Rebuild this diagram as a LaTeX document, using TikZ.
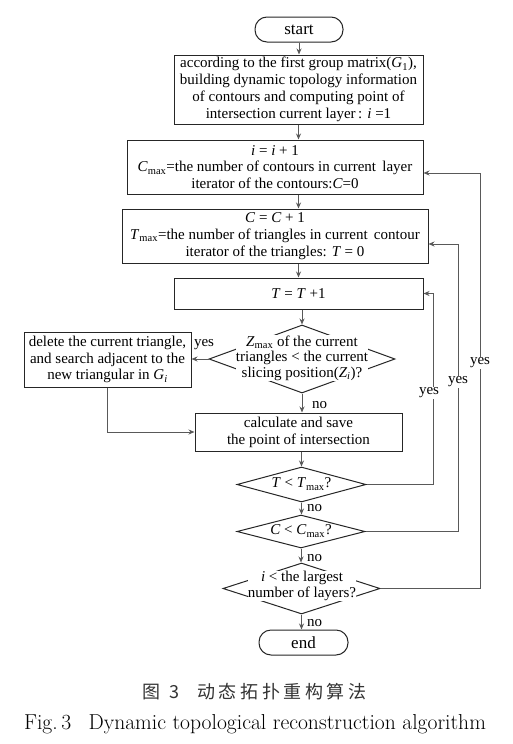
\documentclass[tikz,border=0pt]{standalone}
\usepackage{fontspec}
\newfontfamily\tnr{Liberation Serif}
\newfontfamily\cjk{Noto Sans CJK SC}
\usetikzlibrary{shapes.geometric,arrows.meta}
\begin{document}
\begin{tikzpicture}[x=1pt,y=-1pt,
  box/.style={draw=black!85, line width=1pt, align=center, inner sep=1pt, font=\tnr\fontsize{15}{16.8}\selectfont},
  term/.style={box, rounded corners=12pt, font=\tnr\fontsize{17}{18}\selectfont},
  dia/.style={draw=black!85, line width=1pt, diamond, inner sep=0pt},
  dtxt/.style={fill=white, inner sep=0.3pt, align=center, font=\tnr\fontsize{15}{15.5}\selectfont},
  arr/.style={draw=black!65, line width=1pt, -{Stealth[length=6pt,width=5pt]}},
  lbl/.style={font=\tnr\fontsize{15}{15}\selectfont, inner sep=1pt},
  ylbl/.style={lbl, fill=white}]
\useasboundingbox (0,0) rectangle (513,744);
\fill[white] (0,0) rectangle (513,744);

\node[term, minimum width=88, minimum height=25] (start) at (299,29.5) {start};
\node[box, minimum width=249, minimum height=69] (b1) at (298.5,89.5)
  {according to the first group matrix(\textit{G}\textsubscript{1}),\\building dynamic topology information\\of contours and computing point of\\intersection current layer\,: \textit{i} =1};
\node[box, minimum width=296, minimum height=54] (b2) at (275,167)
  {\textit{i} = \textit{i} + 1\\\textit{C}\textsubscript{max}=the number of contours in current\, layer\\iterator of the contours:\textit{C}=0};
\node[box, minimum width=306, minimum height=54] (b3) at (275,236)
  {\textit{C} = \textit{C} + 1\\\textit{T}\textsubscript{max}=the number of triangles in current\, contour\\iterator of the triangles: \textit{T} = 0};
\node[box, minimum width=249, minimum height=31] (b4) at (298.5,293.5) {\textit{T} = \textit{T} +1};
\node[dia, minimum width=186, minimum height=68] (d1) at (302,359) {};
\node[dtxt] (d1t) at (302,358) {\textit{Z}\textsubscript{max} of the current\\triangles < the current\\slicing position(\textit{Z}\textsubscript{\textit{i}})?};
\node[box, minimum width=167, minimum height=55] (del) at (107.5,359.5)
  {delete the current triangle,\\and search adjacent to the\\new triangular in \textit{G}\textsubscript{\textit{i}}};
\node[box, minimum width=207, minimum height=38] (calc) at (298.5,432)
  {calculate and save\\the point of intersection};
\node[dia, minimum width=129, minimum height=35] (d2) at (301.5,484.5) {};
\node[dtxt] (d2t) at (301.5,484) {\textit{T} < \textit{T}\textsubscript{max}?};
\node[dia, minimum width=128, minimum height=33] (d3) at (301,531.5) {};
\node[dtxt] (d3t) at (301,531) {\textit{C} < \textit{C}\textsubscript{max}?};
\node[dia, minimum width=157, minimum height=51] (d4) at (301.5,588.5) {};
\node[dtxt] (d4t) at (302,586) {\textit{i} < the largest\\number of layers?};
\node[term, minimum width=89, minimum height=25] (end) at (303.5,642.5) {end};

\coordinate (r1) at (433,293.5);
\coordinate (r2) at (458,244);
\coordinate (r3) at (480,173);

\draw[arr] (start.south) -- (start.south |- b1.north);
\draw[arr] (b1.south) -- (b1.south |- b2.north);
\draw[arr] (b2.south -| b1.south) -- (b1.south |- b3.north);
\draw[arr] (b4.north |- b3.south) -- (b4.north);
\draw[arr] (d1.north |- b4.south) -- (d1.north);
\draw[arr] (d1.west) -- (d1.west -| del.east);
\draw[arr] (del.south) |- (calc.west);
\draw[arr] (d1.south) -- (d1.south |- calc.north);
\draw[arr] (d2.north |- calc.south) -- (d2.north);
\draw[arr] (d2.south) -- (d2.south |- d3.north);
\draw[arr] (d3.south) -- (d3.south |- d4.north);
\draw[arr] (d4.south) -- (d4.south |- end.north);

\draw[arr] (d2.east) -| (r1) -- (r1 -| b4.east);
\draw[arr] (d3.east) -| (r2) -- (r2 -| b3.east);
\draw[arr] (d4.east) -| (r3) -- (r3 -| b2.east);

\node[ylbl] at (429,393) {yes};
\node[ylbl] at (458,382) {yes};
\node[ylbl] at (480,363) {yes};
\node[lbl] at (204,345) {yes};
\node[lbl, anchor=west] at (311,405) {no};
\node[lbl, anchor=west] at (306,508) {no};
\node[lbl, anchor=west] at (306,558) {no};
\node[lbl, anchor=west] at (306,623) {no};

\node[font=\cjk\fontsize{18}{20}\selectfont, text=black!80] (cap1) at (254.5,692)
  {图\hspace{9pt}3\hspace{18pt}动\hspace{3.6pt}态\hspace{3.6pt}拓\hspace{3.6pt}扑\hspace{3.6pt}重\hspace{3.6pt}构\hspace{3.6pt}算\hspace{3.6pt}法};
\node[font=\fontsize{21.6}{24}\selectfont] (cap2) at (255,724)
  {Fig.\,3\hspace{0.8em}Dynamic topological reconstruction algorithm};
\end{tikzpicture}
\end{document}
